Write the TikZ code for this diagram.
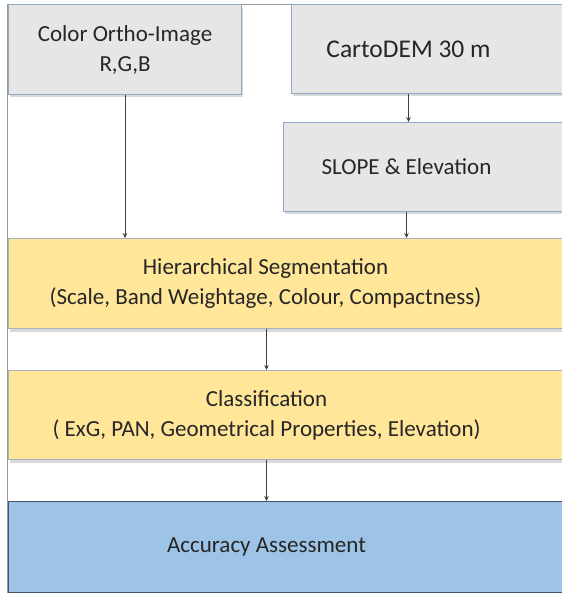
\documentclass[tikz,border=0pt]{standalone}
\usepackage{fontspec}
\setmainfont{Carlito}
\usetikzlibrary{arrows.meta,shadows}

\definecolor{inputfill}{HTML}{E7E6E6}
\definecolor{inputline}{HTML}{8FA8C6}
\definecolor{stepfill}{HTML}{FFE699}
\definecolor{stepline}{HTML}{A3B4C0}
\definecolor{resultfill}{HTML}{9DC3E6}
\definecolor{resultline}{HTML}{44546A}

\begin{document}
\begin{tikzpicture}[x=1pt,y=-1pt,>={Stealth[length=5pt,width=4.5pt]},
  every node/.style={font=\fontsize{23}{30}\selectfont,align=center,text=black!85},
  box/.style={draw,line width=1pt,anchor=north west,inner sep=0pt,
    drop shadow={shadow xshift=1pt,shadow yshift=-3pt,opacity=.3}},
  inputbox/.style={box,draw=inputline,fill=inputfill},
  stepbox/.style={box,draw=stepline,fill=stepfill},
  resultbox/.style={box,draw=resultline,fill=resultfill},
  flow/.style={->,draw=black!75,line width=.7pt}]
  \useasboundingbox (0,0) rectangle (561,593);
  \draw[black!40,line width=.8pt] (7,4) rectangle (640,592);

  \node[inputbox,minimum width=233,minimum height=90] (ortho) at (8,4) {Color Ortho-Image\\R,G,B};
  \node[inputbox,minimum width=309,minimum height=89,
    label={[name=cartotext,xshift=-37.5pt,font=\fontsize{25.5}{30}\selectfont]center:CartoDEM 30 m}] (carto) at (291,4) {};
  \node[inputbox,minimum width=317,minimum height=89,
    label={[name=slopetext,xshift=-35.5pt]center:SLOPE \& Elevation}] (slope) at (283,122) {};
  \node[stepbox,minimum width=592,minimum height=90,
    label={[name=segtext,xshift=-39pt]center:Hierarchical Segmentation\\(Scale, Band Weightage, Colour, Compactness)}] (seg) at (8,238) {};
  \node[stepbox,minimum width=592,minimum height=89,
    label={[name=clstext,xshift=-38pt]center:Classification\\( ExG, PAN, Geometrical Properties, Elevation)}] (cls) at (8,370) {};
  \node[resultbox,minimum width=592,minimum height=91,
    label={[name=acctext,xshift=-38pt]center:Accuracy Assessment}] (acc) at (8,501) {};

  \draw[flow] (ortho.south) -- (ortho.south |- seg.north);
  \draw[flow] (cartotext |- carto.south) -- (cartotext |- slope.north);
  \draw[flow] (slopetext |- slope.south) -- (slopetext |- seg.north);
  \draw[flow] (clstext |- seg.south) -- (clstext |- cls.north);
  \draw[flow] (clstext |- cls.south) -- (clstext |- acc.north);
\end{tikzpicture}
\end{document}
